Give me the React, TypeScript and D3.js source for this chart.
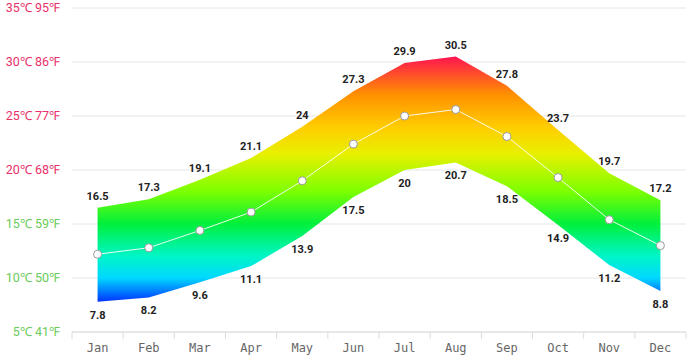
import React from "react";
import * as d3 from "d3";

const width = 694;
const height = 363;
const margin = { top: 8, right: 8, bottom: 31, left: 72 };

const months = ["Jan", "Feb", "Mar", "Apr", "May", "Jun", "Jul", "Aug", "Sep", "Oct", "Nov", "Dec"];
const highs = [16.5, 17.3, 19.1, 21.1, 24, 27.3, 29.9, 30.5, 27.8, 23.7, 19.7, 17.2];
const lows = [7.8, 8.2, 9.6, 11.1, 13.9, 17.5, 20, 20.7, 18.5, 14.9, 11.2, 8.8];
const avgs = [12.2, 12.8, 14.4, 16.1, 19.0, 22.4, 25.0, 25.6, 23.1, 19.3, 15.4, 13.0];
const tickC = [5, 10, 15, 20, 25, 30, 35];
const tickF = [41, 50, 59, 68, 77, 86, 95];

// temperature -> colour for the band fill
const colorStops = [
  { t: 7.8, c: "#0033ff" },
  { t: 10, c: "#00d8ff" },
  { t: 12, c: "#00f5c8" },
  { t: 15, c: "#00f03c" },
  { t: 18, c: "#7cff00" },
  { t: 21.5, c: "#e8f000" },
  { t: 24, c: "#ffcc00" },
  { t: 27, c: "#ff9000" },
  { t: 30.5, c: "#ff1450" },
];

export default function App() {
  const x = d3
    .scaleBand<string>()
    .domain(months)
    .range([margin.left, width - margin.right]);
  const y = d3
    .scaleLinear()
    .domain([5, 35])
    .range([height - margin.bottom, margin.top]);
  const cx = (m: string) => (x(m) ?? 0) + x.bandwidth() / 2;

  const area = d3
    .area<number>()
    .x((_, i) => cx(months[i]))
    .y0((_, i) => y(lows[i]))
    .y1((d) => y(d));
  const line = d3
    .line<number>()
    .x((_, i) => cx(months[i]))
    .y((d) => y(d));

  const yMin = y(7.8);
  const yMax = y(30.5);

  return (
    <svg width={width} height={height} style={{ position: "absolute", left: 0, top: 0 }}>
      <defs>
        <linearGradient id="temp" gradientUnits="userSpaceOnUse" x1={0} x2={0} y1={yMin} y2={yMax}>
          {colorStops.map((s) => (
            <stop key={s.t} offset={(s.t - 7.8) / (30.5 - 7.8)} stopColor={s.c} />
          ))}
        </linearGradient>
      </defs>
      <rect width={width} height={height} fill="#fff" />
      {tickC.map((t, i) => (
        <g key={t}>
          <line x1={margin.left} x2={width - margin.right} y1={y(t)} y2={y(t)} stroke="#e6e6e6" />
          <text
            x={60}
            y={y(t)}
            dy="0.35em"
            textAnchor="end"
            fontFamily="Roboto, sans-serif"
            fontSize={12.5}
            fill={t >= 20 ? "#e8306a" : "#6acc5a"}
          >
            {`${t}℃ ${tickF[i]}℉`}
          </text>
        </g>
      ))}
      <path d={area(highs) ?? ""} fill="url(#temp)" />
      <path d={line(avgs) ?? ""} fill="none" stroke="#fff" strokeWidth={1} opacity={0.9} />
      {avgs.map((v, i) => (
        <circle key={i} cx={cx(months[i])} cy={y(v)} r={4} fill="#fff" stroke="#999" strokeWidth={1} />
      ))}
      {highs.map((v, i) => (
        <text
          key={"h" + i}
          x={cx(months[i])}
          y={y(v) - 8}
          textAnchor="middle"
          fontFamily="Roboto, sans-serif"
          fontWeight="bold"
          fontSize={11}
          fill="#222"
        >
          {v}
        </text>
      ))}
      {lows.map((v, i) => (
        <text
          key={"l" + i}
          x={cx(months[i])}
          y={y(v) + 17}
          textAnchor="middle"
          fontFamily="Roboto, sans-serif"
          fontWeight="bold"
          fontSize={11}
          fill="#222"
        >
          {v}
        </text>
      ))}
      <line
        x1={margin.left}
        x2={width - margin.right}
        y1={height - margin.bottom}
        y2={height - margin.bottom}
        stroke="#dcdcdc"
      />
      {months.map((m) => (
        <g key={m}>
          <line
            x1={x(m) ?? 0}
            x2={x(m) ?? 0}
            y1={height - margin.bottom}
            y2={height - margin.bottom + 7}
            stroke="#dcdcdc"
          />
          <text
            x={cx(m)}
            y={height - margin.bottom + 20}
            textAnchor="middle"
            fontFamily="'DejaVu Sans Mono', monospace"
            fontSize={12}
            fill="#666"
          >
            {m}
          </text>
        </g>
      ))}
      <line
        x1={width - margin.right}
        x2={width - margin.right}
        y1={height - margin.bottom}
        y2={height - margin.bottom + 7}
        stroke="#dcdcdc"
      />
    </svg>
  );
}
